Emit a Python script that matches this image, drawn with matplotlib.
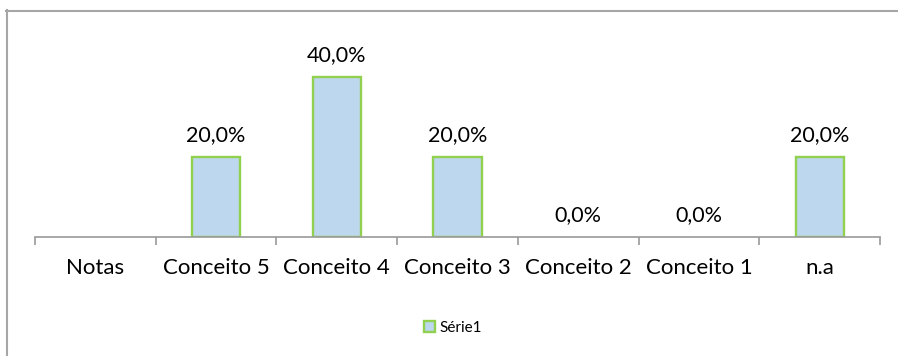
import numpy as np
import matplotlib
matplotlib.use("Agg")
import matplotlib.pyplot as plt
from matplotlib.patches import Patch
from matplotlib.lines import Line2D

categories = ["Notas", "Conceito 5", "Conceito 4", "Conceito 3", "Conceito 2", "Conceito 1", "n.a"]
values = [np.nan, 20.0, 40.0, 20.0, 0.0, 0.0, 20.0]
series_name = "Série1"

plt.rcParams['font.family'] = ['Lato', 'DejaVu Sans']

W, H = 898, 356
fig = plt.figure(figsize=(W / 100, H / 100), dpi=100)
ax = fig.add_axes([35 / W, 1 - 237 / H, (880 - 35) / W, (237 - 57) / H])

x = np.arange(len(categories))
fill = "#BDD7EE"
edge = "#92D050"
lws = [1.7 if (not np.isnan(v) and v > 0) else 0 for v in values]
ax.bar(x, values, width=0.4, color=fill, edgecolor=edge, linewidth=lws, zorder=2)

for xi, v in zip(x, values):
    if np.isnan(v):
        continue
    ax.annotate(f"{v:.1f}%".replace(".", ","), (xi, v), xytext=(0, 8.5),
                textcoords="offset points", ha="center", va="bottom",
                fontsize=15.5, color="#000000")

ax.set_xlim(-0.5, len(categories) - 0.5)
ax.set_ylim(0, 45)
for s in ["top", "right", "left"]:
    ax.spines[s].set_visible(False)
ax.spines["bottom"].set_color("#9A9A9A")
ax.spines["bottom"].set_linewidth(1.2)
ax.spines["bottom"].set_zorder(3)
ax.set_yticks([])
ax.set_xticks(x)
ax.set_xticklabels(categories, fontsize=16)
ax.tick_params(axis="x", which="major", length=0, pad=15)
ax.set_xticks(np.arange(-0.5, len(categories)), minor=True)
ax.tick_params(axis="x", which="minor", length=6, width=1.2, color="#9A9A9A", direction="out")

leg = fig.legend(handles=[Patch(facecolor=fill, edgecolor=edge, linewidth=1.7, label=series_name)],
                 loc="center", bbox_to_anchor=(453 / W, 1 - 328 / H), frameon=False,
                 fontsize=11, handlelength=0.75, handleheight=0.75, handletextpad=0.3)

fig.add_artist(Line2D([6.5 / W, 6.5 / W], [1 - 10 / H, 0], transform=fig.transFigure,
                      color="#A6A6A6", linewidth=1.5))
fig.add_artist(Line2D([6 / W, 1], [1 - 10.5 / H, 1 - 10.5 / H], transform=fig.transFigure,
                      color="#A6A6A6", linewidth=1.5))

fig.savefig("out.png", dpi=100)
